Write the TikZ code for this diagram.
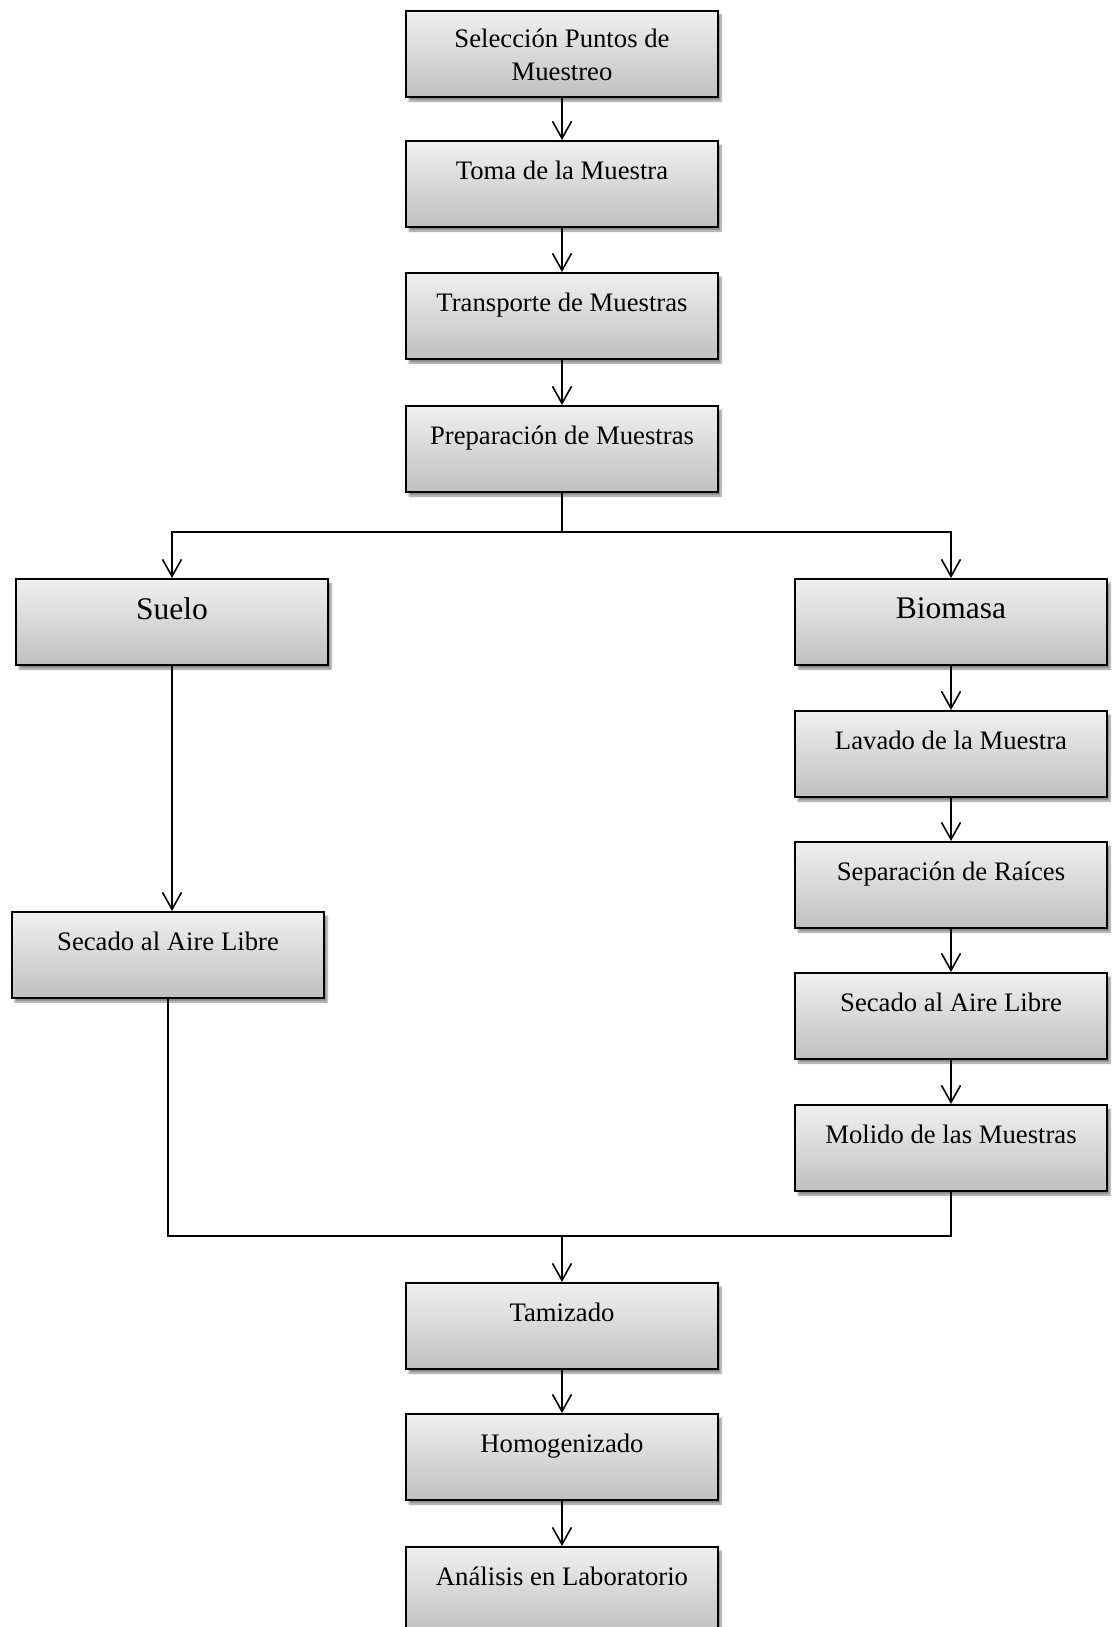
\documentclass[tikz,border=0pt]{standalone}
\usepackage{fontspec}
\setmainfont{Liberation Serif}
\usetikzlibrary{arrows.meta,shadows.blur}
\definecolor{boxtop}{RGB}{240,240,240}
\definecolor{boxmid}{RGB}{224,224,224}
\definecolor{boxbot}{RGB}{192,192,192}
\newcommand\bxtxt[2][38]{\parbox[t][86pt][t]{306pt}{\centering\rule{0pt}{#1pt}#2}}
\tikzset{
  stepbox/.style={draw=black, line width=2pt, rectangle, anchor=north,
    minimum width=312pt, minimum height=86pt, inner sep=0pt,
    top color=boxtop, middle color=boxmid, bottom color=boxbot,
    blur shadow={shadow xshift=3pt, shadow yshift=-4pt, shadow blur steps=6, shadow opacity=45},
    font=\fontsize{26.7}{33}\selectfont},
  bigbox/.style={stepbox, font=\fontsize{31.5}{38}\selectfont},
  conn/.style={line width=1.6pt, draw=black},
  arr/.style={conn, -{Straight Barb[length=17pt,width=19pt,line width=1.6pt]}}
}
\begin{document}
\begin{tikzpicture}[x=1pt,y=1pt]
\useasboundingbox (0,0) rectangle (1113,-1627);
% main column
\node[stepbox] (sel) at (562,-10) {\bxtxt[37]{Selección Puntos de\\Muestreo}};
\node[stepbox] (toma) at (562,-140) {\bxtxt{Toma de la Muestra}};
\node[stepbox] (trans) at (562,-272) {\bxtxt{Transporte de Muestras}};
\node[stepbox] (prep) at (562,-405) {\bxtxt{Preparación de Muestras}};
% branches
\node[bigbox] (suelo) at (172,-578) {\bxtxt[40]{Suelo}};
\node[bigbox] (bio) at (951,-578) {\bxtxt[39]{Biomasa}};
\node[stepbox] (lav) at (951,-710) {\bxtxt{Lavado de la Muestra}};
\node[stepbox] (sep) at (951,-841) {\bxtxt{Separación de Raíces}};
\node[stepbox] (secR) at (951,-972) {\bxtxt{Secado al Aire Libre}};
\node[stepbox] (mol) at (951,-1104) {\bxtxt{Molido de las Muestras}};
\node[stepbox] (secL) at (168,-911) {\bxtxt{Secado al Aire Libre}};
% bottom column
\node[stepbox] (tam) at (562,-1282) {\bxtxt{Tamizado}};
\node[stepbox] (hom) at (562,-1413) {\bxtxt{Homogenizado}};
\node[stepbox] (ana) at (562,-1546) {\bxtxt{Análisis en Laboratorio}};
% junction coordinates
\coordinate (split) at (562,-532);
\coordinate (merge) at (562,-1236);
% connectors
\draw[arr] (sel) -- (toma);
\draw[arr] (toma) -- (trans);
\draw[arr] (trans) -- (prep);
\draw[conn] (prep.south) -- (split);
\draw[arr] (split) -| (suelo.north);
\draw[arr] (split) -| (bio.north);
\draw[arr] (suelo.south) -- (suelo.south |- secL.north);
\draw[arr] (bio) -- (lav);
\draw[arr] (lav) -- (sep);
\draw[arr] (sep) -- (secR);
\draw[arr] (secR) -- (mol);
\draw[conn] (secL.south) -- (secL.south |- merge) -- (mol.south |- merge) -- (mol.south);
\draw[arr] (merge) -- (tam.north);
\draw[arr] (tam) -- (hom);
\draw[arr] (hom) -- (ana);
\end{tikzpicture}
\end{document}
